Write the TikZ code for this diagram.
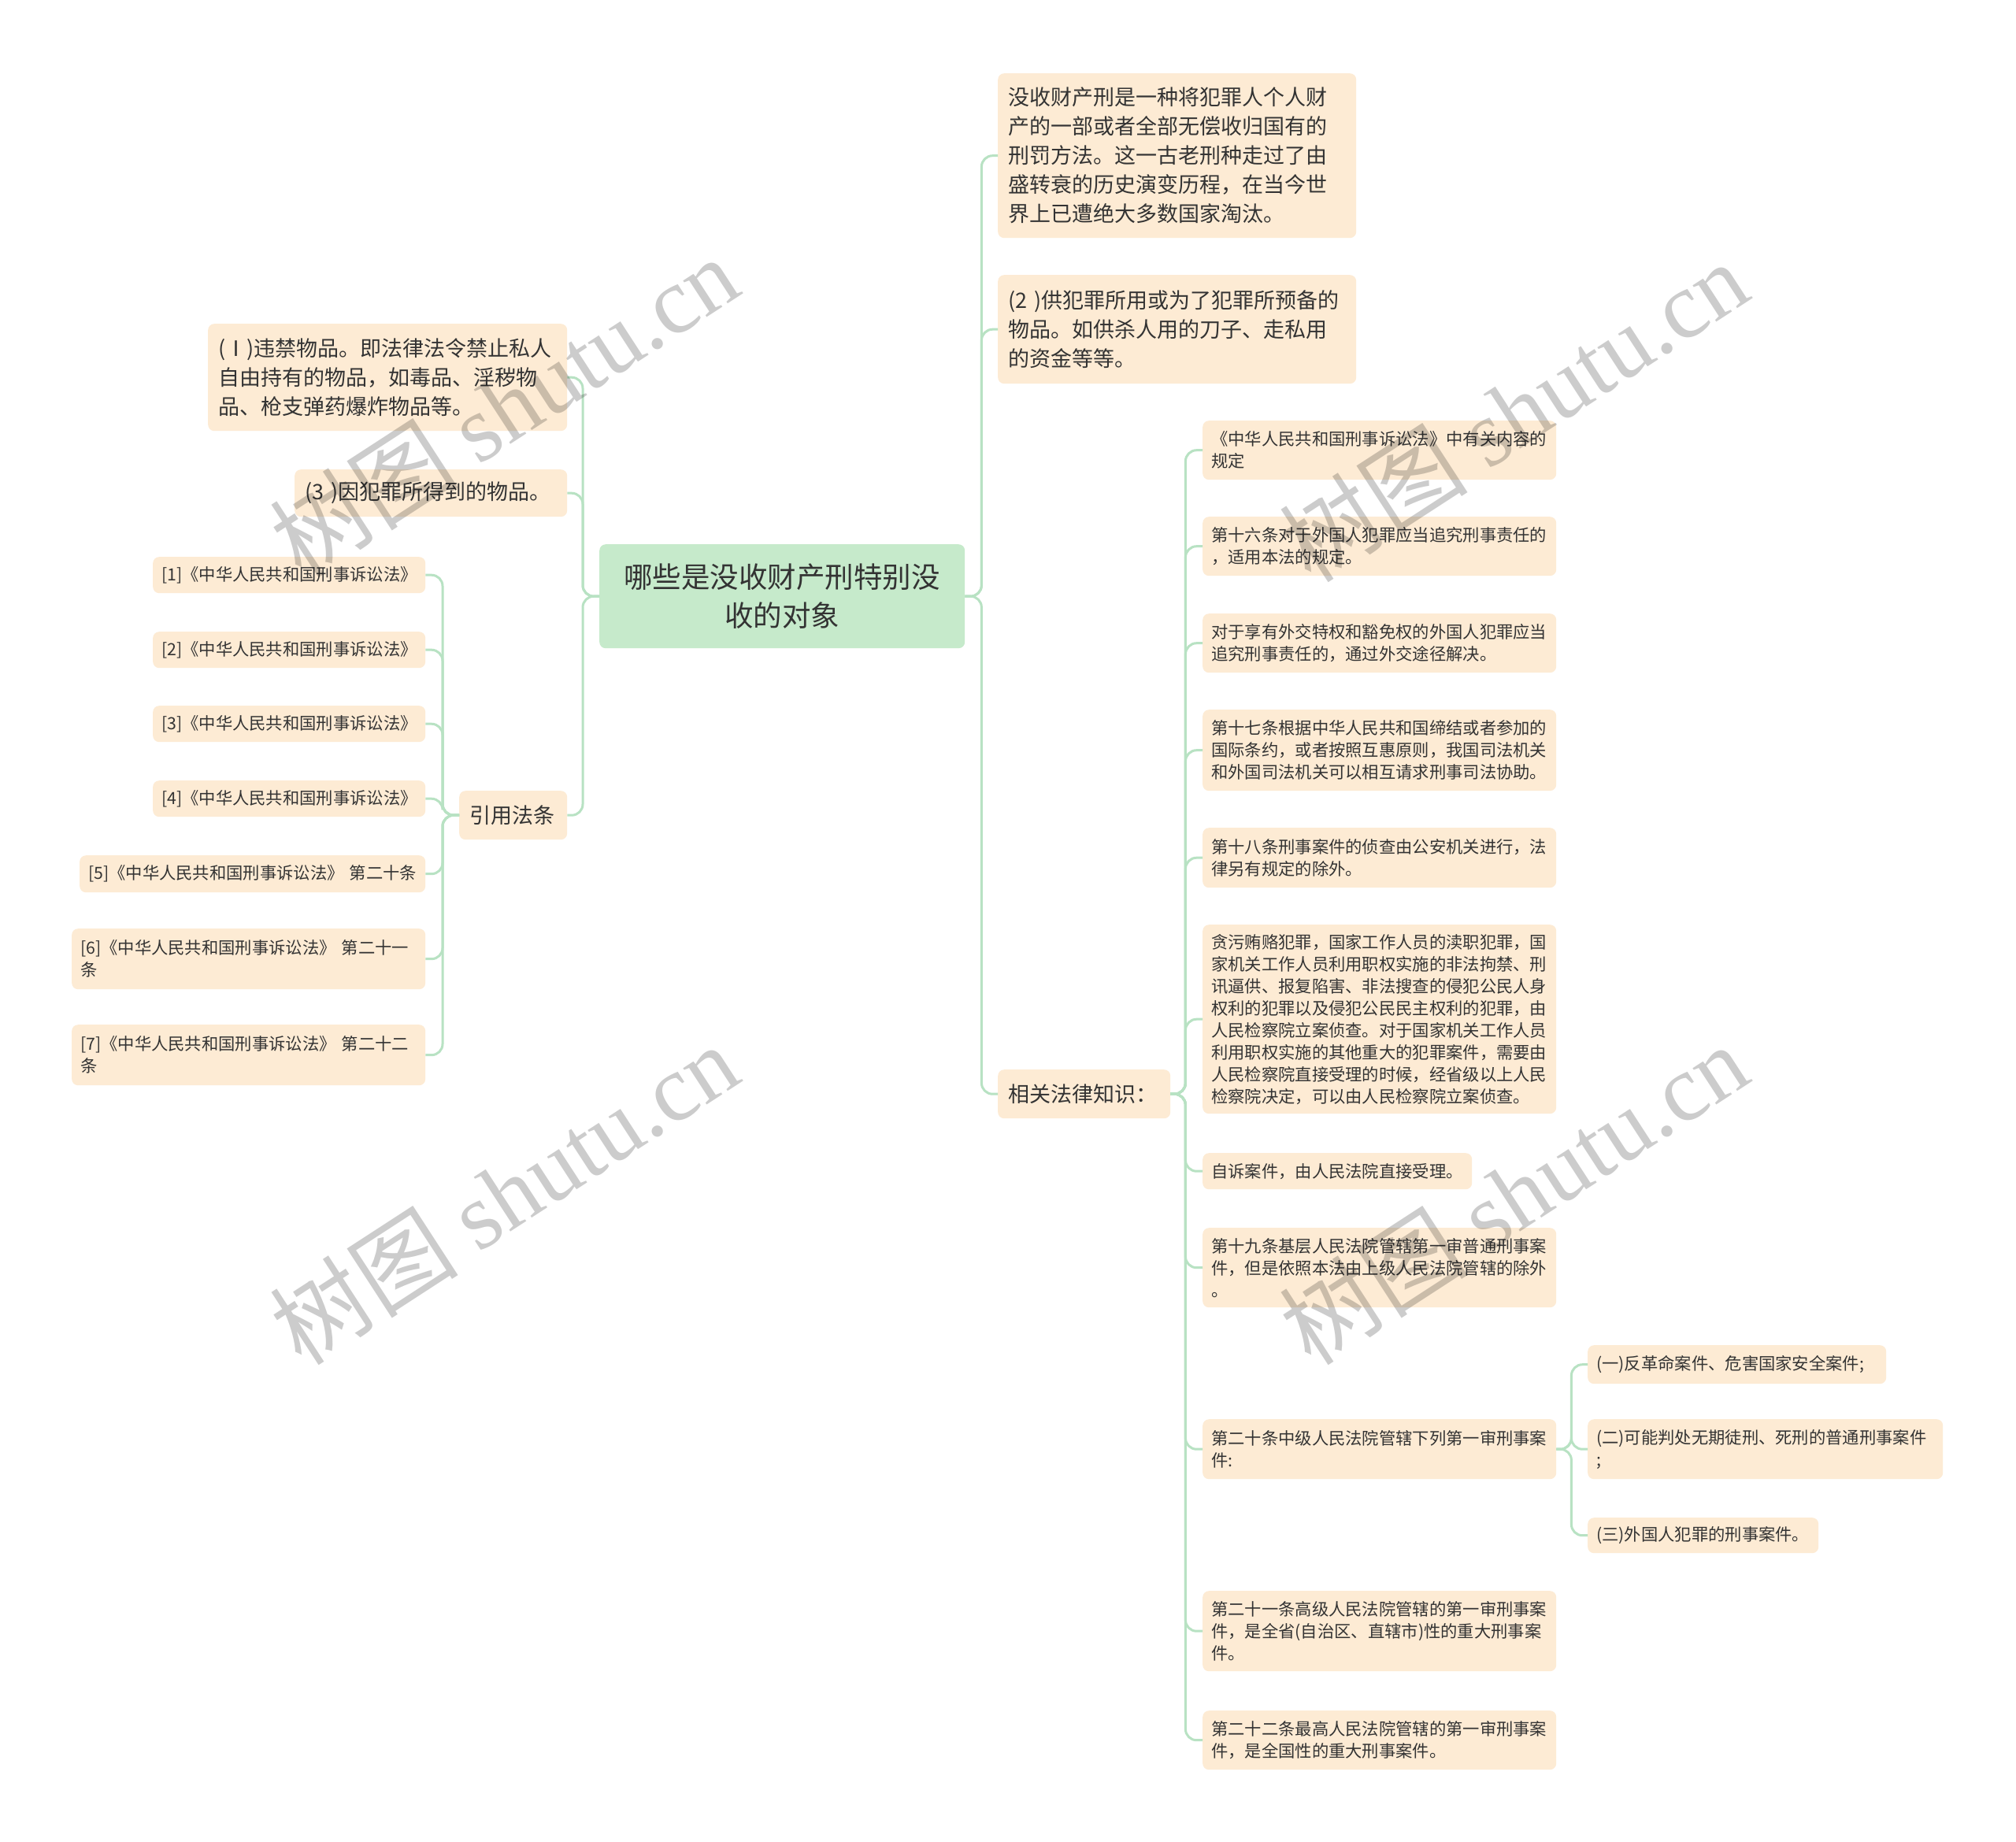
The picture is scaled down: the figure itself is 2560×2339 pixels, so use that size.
\documentclass[tikz,border=0pt]{standalone}
\usepackage{fontspec}
\setmainfont{Noto Sans CJK SC}
\newfontfamily\wmfont{Liberation Serif}
\definecolor{boxfill}{HTML}{FDEBD4}
\definecolor{rootfill}{HTML}{C6EACB}
\definecolor{linec}{HTML}{B8E2C3}
\definecolor{txt}{HTML}{333333}
\tikzset{
  base/.style={anchor=north west, rounded corners=8pt, fill=boxfill, text=txt, align=left, inner ysep=0pt},
  sbox/.style={base, inner xsep=11pt, font=\fontsize{21.3}{28}\selectfont},
  mbox/.style={base, inner xsep=13pt, font=\fontsize{27}{37}\selectfont},
  rootbox/.style={base, fill=rootfill, align=center, inner xsep=14pt, font=\fontsize{36.5}{49}\selectfont},
  conn/.style={draw=linec, line width=3pt, rounded corners=14pt},
  wm/.style={rotate=33, text=black, text opacity=0.2, font=\fontsize{120}{120}\selectfont, inner sep=0pt}
}
\begin{document}
\begin{tikzpicture}[x=1pt,y=-1pt]
\useasboundingbox (0,0) rectangle (2560,2339);
\clip (0,0) rectangle (2560,2339);
\fill[white] (0,0) rectangle (2560,2339);

% root
\node[rootbox, text width=436pt, minimum height=132pt] (root) at (761,691) {哪些是没收财产刑特别没\\收的对象};

% right first level
\node[mbox, text width=429pt, minimum height=209pt] (A) at (1267,93) {没收财产刑是一种将犯罪人个人财\\产的一部或者全部无偿收归国有的\\刑罚方法。这一古老刑种走过了由\\盛转衰的历史演变历程，在当今世\\界上已遭绝大多数国家淘汰。};
\node[mbox, text width=429pt, minimum height=138pt] (B) at (1267,349) {(2 )供犯罪所用或为了犯罪所预备的\\物品。如供杀人用的刀子、走私用\\的资金等等。};
\node[mbox, text width=193pt, minimum height=62pt] (rel) at (1267,1358) {相关法律知识：};

% right second level
\node[sbox, text width=427pt, minimum height=75pt] (r1) at (1527,534) {《中华人民共和国刑事诉讼法》中有关内容的\\规定};
\node[sbox, text width=427pt, minimum height=75pt] (r2) at (1527,656) {第十六条对于外国人犯罪应当追究刑事责任的\\，适用本法的规定。};
\node[sbox, text width=427pt, minimum height=75pt] (r3) at (1527,779) {对于享有外交特权和豁免权的外国人犯罪应当\\追究刑事责任的，通过外交途径解决。};
\node[sbox, text width=427pt, minimum height=103pt] (r4) at (1527,901) {第十七条根据中华人民共和国缔结或者参加的\\国际条约，或者按照互惠原则，我国司法机关\\和外国司法机关可以相互请求刑事司法协助。};
\node[sbox, text width=427pt, minimum height=76pt] (r5) at (1527,1051) {第十八条刑事案件的侦查由公安机关进行，法\\律另有规定的除外。};
\node[sbox, text width=427pt, minimum height=240pt] (r6) at (1527,1174) {贪污贿赂犯罪，国家工作人员的渎职犯罪，国\\家机关工作人员利用职权实施的非法拘禁、刑\\讯逼供、报复陷害、非法搜查的侵犯公民人身\\权利的犯罪以及侵犯公民民主权利的犯罪，由\\人民检察院立案侦查。对于国家机关工作人员\\利用职权实施的其他重大的犯罪案件，需要由\\人民检察院直接受理的时候，经省级以上人民\\检察院决定，可以由人民检察院立案侦查。};
\node[sbox, text width=320pt, minimum height=46pt] (r7) at (1527,1464) {自诉案件，由人民法院直接受理。};
\node[sbox, text width=427pt, minimum height=101pt] (r8) at (1527,1559) {第十九条基层人民法院管辖第一审普通刑事案\\件，但是依照本法由上级人民法院管辖的除外\\。};
\node[sbox, text width=427pt, minimum height=76pt] (r9) at (1527,1802) {第二十条中级人民法院管辖下列第一审刑事案\\件:};
\node[sbox, text width=427pt, minimum height=102pt] (r10) at (1527,2020) {第二十一条高级人民法院管辖的第一审刑事案\\件，是全省(自治区、直辖市)性的重大刑事案\\件。};
\node[sbox, text width=427pt, minimum height=75pt] (r11) at (1527,2172) {第二十二条最高人民法院管辖的第一审刑事案\\件，是全国性的重大刑事案件。};

% third level
\node[sbox, text width=357pt, minimum height=49pt] (s1) at (2016,1708) {(一)反革命案件、危害国家安全案件;};
\node[sbox, text width=429pt, minimum height=76pt] (s2) at (2016,1802) {(二)可能判处无期徒刑、死刑的普通刑事案件\\;};
\node[sbox, text width=271pt, minimum height=45pt] (s3) at (2016,1927) {(三)外国人犯罪的刑事案件。};

% left first level
\node[mbox, text width=430pt, minimum height=136pt] (L1) at (264,411) {(Ⅰ)违禁物品。即法律法令禁止私人\\自由持有的物品，如毒品、淫秽物\\品、枪支弹药爆炸物品等。};
\node[mbox, text width=320pt, minimum height=60pt] (L2) at (374,596) {(3 )因犯罪所得到的物品。};
\node[mbox, text width=111pt, minimum height=62pt] (cite) at (583,1004) {引用法条};

% left second level
\node[sbox, text width=324pt, minimum height=46pt] (c1) at (194,707) {[1]《中华人民共和国刑事诉讼法》};
\node[sbox, text width=324pt, minimum height=46pt] (c2) at (194,802) {[2]《中华人民共和国刑事诉讼法》};
\node[sbox, text width=324pt, minimum height=46pt] (c3) at (194,896) {[3]《中华人民共和国刑事诉讼法》};
\node[sbox, text width=324pt, minimum height=46pt] (c4) at (194,991) {[4]《中华人民共和国刑事诉讼法》};
\node[sbox, text width=417pt, minimum height=47pt] (c5) at (101,1086) {[5]《中华人民共和国刑事诉讼法》 第二十条};
\node[sbox, text width=427pt, minimum height=77pt] (c6) at (91,1179) {[6]《中华人民共和国刑事诉讼法》 第二十一\\条};
\node[sbox, text width=427pt, minimum height=77pt] (c7) at (91,1301) {[7]《中华人民共和国刑事诉讼法》 第二十二\\条};

% connectors
\foreach \n in {A,B,rel} \draw[conn] (root.east) -- ++(21,0) |- (\n.west);
\foreach \n in {L1,L2,cite} \draw[conn] (root.west) -- ++(-21,0) |- (\n.east);
\foreach \n in {r1,r2,r3,r4,r5,r6,r7,r8,r9,r10,r11} \draw[conn] (rel.east) -- ++(19,0) |- (\n.west);
\foreach \n in {s1,s2,s3} \draw[conn] (r9.east) -- ++(19,0) |- (\n.west);
\foreach \n in {c1,c2,c3,c4,c5,c6,c7} \draw[conn] (cite.west) -- ++(-21,0) |- (\n.east);

% watermarks
\node[wm] (w1) at (640,516) {树图 {\wmfont shutu.cn}};
\node[wm] (w2) at (1922,522) {树图 {\wmfont shutu.cn}};
\node[wm] (w3) at (640,1516) {树图 {\wmfont shutu.cn}};
\node[wm] (w4) at (1922,1516) {树图 {\wmfont shutu.cn}};
\end{tikzpicture}
\end{document}
